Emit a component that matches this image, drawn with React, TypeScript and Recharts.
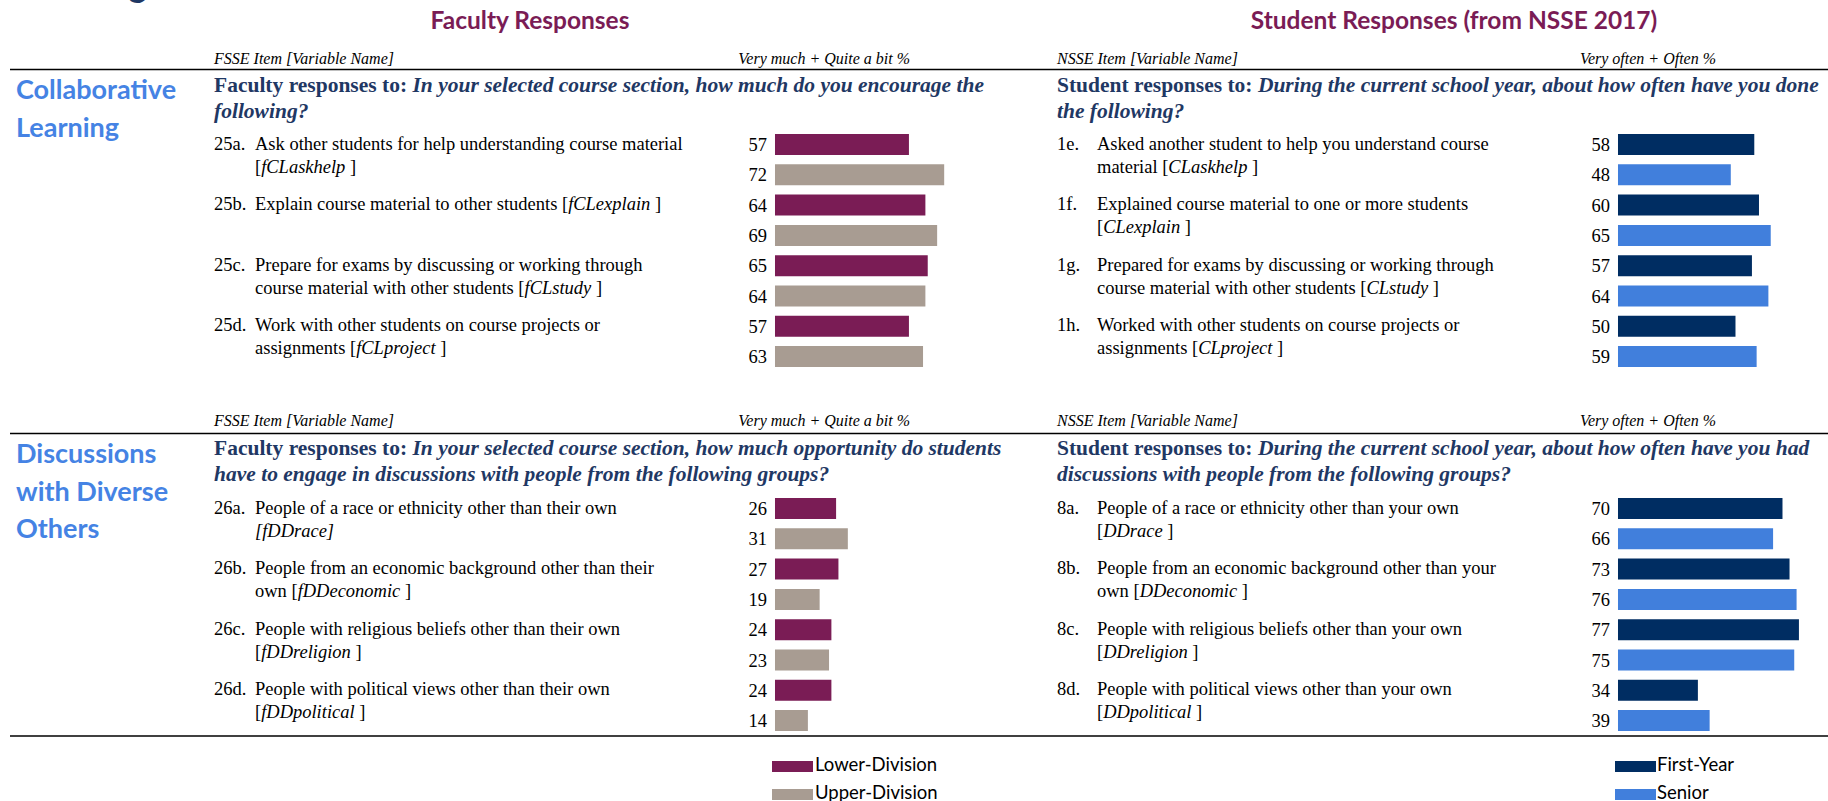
import React from 'react';
import { BarChart, Bar, XAxis, YAxis, Cell, LabelList } from 'recharts';

const SERIF = '"Liberation Serif", "Times New Roman", serif';
const SANS = 'Lato, "Open Sans", sans-serif';

const MAROON = '#7A1C55';
const TAUPE = '#A89C92';
const NAVY = '#002D62';
const BLUE = '#417FDC';
const Q_NAVY = '#1F3864';
const TITLE_BLUE = '#4583E4';

// '_' toggles italic inside a line
const clFacultyCodes = ['25a.', '25b.', '25c.', '25d.'];
const clFacultyItems = [
    ['Ask other students for help understanding course material', '[_fCLaskhelp_ ]'],
    ['Explain course material to other students [_fCLexplain_ ]'],
    ['Prepare for exams by discussing or working through', 'course material with other students [_fCLstudy_ ]'],
    ['Work with other students on course projects or', 'assignments [_fCLproject_ ]'],
];
const clLowerDivision = [57, 64, 65, 57];
const clUpperDivision = [72, 69, 64, 63];

const clStudentCodes = ['1e.', '1f.', '1g.', '1h.'];
const clStudentItems = [
    ['Asked another student to help you understand course', 'material [_CLaskhelp_ ]'],
    ['Explained course material to one or more students', '[_CLexplain_ ]'],
    ['Prepared for exams by discussing or working through', 'course material with other students [_CLstudy_ ]'],
    ['Worked with other students on course projects or', 'assignments [_CLproject_ ]'],
];
const clFirstYear = [58, 60, 57, 50];
const clSenior = [48, 65, 64, 59];

const ddFacultyCodes = ['26a.', '26b.', '26c.', '26d.'];
const ddFacultyItems = [
    ['People of a race or ethnicity other than their own', '_[fDDrace]_'],
    ['People from an economic background other than their', 'own [_fDDeconomic_ ]'],
    ['People with religious beliefs other than their own', '[_fDDreligion_ ]'],
    ['People with political views other than their own', '[_fDDpolitical_ ]'],
];
const ddLowerDivision = [26, 27, 24, 24];
const ddUpperDivision = [31, 19, 23, 14];

const ddStudentCodes = ['8a.', '8b.', '8c.', '8d.'];
const ddStudentItems = [
    ['People of a race or ethnicity other than your own', '[_DDrace_ ]'],
    ['People from an economic background other than your', 'own [_DDeconomic_ ]'],
    ['People with religious beliefs other than your own', '[_DDreligion_ ]'],
    ['People with political views other than your own', '[_DDpolitical_ ]'],
];
const ddFirstYear = [70, 73, 77, 34];
const ddSenior = [66, 76, 75, 39];

const facultyLegend = ['Lower-Division', 'Upper-Division'];
const studentLegend = ['First-Year', 'Senior'];

const BAND = 30.3;

const buildRows = (codes: string[], a: number[], b: number[]) =>
    codes.flatMap((c, i) => [
        { key: `${c}|0`, value: a[i], series: 0 },
        { key: `${c}|1`, value: b[i], series: 1 },
    ]);

const Segs = ({ line, bold }: { line: string; bold?: boolean }) => (
    <>
        {line.split('_').map((s, k) => (
            <tspan key={k} fontStyle={k % 2 ? 'italic' : 'normal'} fontWeight={bold ? 700 : 400}>{s}</tspan>
        ))}
    </>
);

const ItemTick = (props: any) => {
    const { y, payload, codes, items, codeX, textX } = props;
    const [code, s] = String(payload.value).split('|');
    if (s !== '0') return <g />;
    const lines: string[] = items[codes.indexOf(code)];
    return (
        <g fontFamily={SERIF} fontSize={18.5} fill="#000" style={{ whiteSpace: 'pre' }}>
            <text x={codeX} y={y + 5.5}>{code}</text>
            {lines.map((ln, j) => (
                <text key={j} x={textX} y={y + 5.5 + j * 23}><Segs line={ln} /></text>
            ))}
        </g>
    );
};

interface PanelProps {
    left: number;
    top: number;
    axisW: number;
    codeX: number;
    textX: number;
    codes: string[];
    items: string[][];
    a: number[];
    b: number[];
    colors: string[];
}

const Panel: React.FC<PanelProps> = ({ left, top, axisW, codeX, textX, codes, items, a, b, colors }) => {
    const rows = buildRows(codes, a, b);
    return (
        <div style={{ position: 'absolute', left, top }}>
            <BarChart width={axisW + 240} height={BAND * rows.length} data={rows} layout="vertical"
                margin={{ top: 0, right: 5, bottom: 0, left: 0 }}>
                <XAxis type="number" domain={[0, 100]} hide />
                <YAxis type="category" dataKey="key" width={axisW} axisLine={false} tickLine={false} interval={0}
                    tick={(p: any) => <ItemTick {...p} codes={codes} items={items} codeX={codeX} textX={textX} />} />
                <Bar dataKey="value" barSize={21} isAnimationActive={false}>
                    {rows.map((r) => <Cell key={r.key} fill={colors[r.series]} />)}
                    <LabelList dataKey="value" position="left" offset={8} fill="#000" fontFamily={SERIF} fontSize={18.5} />
                </Bar>
            </BarChart>
        </div>
    );
};

const sections = [
    {
        header: 64, line: 69.5, titleY: [99.3, 136.7], qY: [92.3, 118.3],
        title: ['Collaborative', 'Learning'],
        fq: ['Faculty responses to: _In your selected course section, how much do you encourage the_', '_following?_'],
        sq: ['Student responses to: _During the current school year, about how often have you done_', '_the following?_'],
    },
    {
        header: 425.5, line: 433.5, titleY: [463.3, 500.8, 538.3], qY: [455, 481],
        title: ['Discussions', 'with Diverse', 'Others'],
        fq: ['Faculty responses to: _In your selected course section, how much opportunity do students_', '_have to engage in discussions with people from the following groups?_'],
        sq: ['Student responses to: _During the current school year, about how often have you had_', '_discussions with people from the following groups?_'],
    },
];

export default function App() {
    return (
        <div style={{ position: 'absolute', left: 0, top: 0, width: 1828, height: 801, background: '#fff', overflow: 'hidden' }}>
            <svg width={1828} height={801} style={{ position: 'absolute', left: 0, top: 0 }}>
                <text x={17} y={-3} fontFamily={SANS} fontWeight={700} fontSize={34} fill={Q_NAVY}>Learning with Peers</text>
                <text x={530} y={29} textAnchor="middle" fontFamily={SANS} fontWeight={700} fontSize={24.5} fill={MAROON}>Faculty Responses</text>
                <text x={1454} y={29} textAnchor="middle" fontFamily={SANS} fontWeight={700} fontSize={24.5} fill={MAROON}>Student Responses (from NSSE 2017)</text>
                {sections.map((s, i) => (
                    <g key={i}>
                        <g fontFamily={SERIF} fontStyle="italic" fontSize={16} fill="#000">
                            <text x={214} y={s.header}>FSSE Item [Variable Name]</text>
                            <text x={910} y={s.header} textAnchor="end">Very much + Quite a bit %</text>
                            <text x={1057} y={s.header}>NSSE Item [Variable Name]</text>
                            <text x={1716} y={s.header} textAnchor="end">Very often + Often %</text>
                        </g>
                        <line x1={10} x2={1828} y1={s.line} y2={s.line} stroke="#000" strokeWidth={1.6} />
                        {s.title.map((t, j) => (
                            <text key={j} x={16} y={s.titleY[j]} fontFamily={SANS} fontWeight={700} fontSize={27} fill={TITLE_BLUE}>{t}</text>
                        ))}
                        <g fontFamily={SERIF} fontSize={21.5} fill={Q_NAVY} style={{ whiteSpace: 'pre' }}>
                            {s.fq.map((q, j) => <text key={j} x={214} y={s.qY[j]}><Segs line={q} bold /></text>)}
                            {s.sq.map((q, j) => <text key={j} x={1057} y={s.qY[j]}><Segs line={q} bold /></text>)}
                        </g>
                    </g>
                ))}
                <line x1={10} x2={1828} y1={736} y2={736} stroke="#000" strokeWidth={1.6} />
                {facultyLegend.map((t, i) => (
                    <g key={t}>
                        <rect x={772} y={761 + i * 28} width={41} height={11} fill={[MAROON, TAUPE][i]} />
                        <text x={815} y={771 + i * 28} fontFamily={SANS} fontSize={18.5} fill="#000">{t}</text>
                    </g>
                ))}
                {studentLegend.map((t, i) => (
                    <g key={t}>
                        <rect x={1615} y={761 + i * 28} width={41} height={11} fill={[NAVY, BLUE][i]} />
                        <text x={1657} y={771 + i * 28} fontFamily={SANS} fontSize={18.5} fill="#000">{t}</text>
                    </g>
                ))}
            </svg>
            <Panel left={200} top={129.2} axisW={575} codeX={14} textX={55}
                codes={clFacultyCodes} items={clFacultyItems} a={clLowerDivision} b={clUpperDivision} colors={[MAROON, TAUPE]} />
            <Panel left={1045} top={129.2} axisW={573} codeX={12} textX={52}
                codes={clStudentCodes} items={clStudentItems} a={clFirstYear} b={clSenior} colors={[NAVY, BLUE]} />
            <Panel left={200} top={493.2} axisW={575} codeX={14} textX={55}
                codes={ddFacultyCodes} items={ddFacultyItems} a={ddLowerDivision} b={ddUpperDivision} colors={[MAROON, TAUPE]} />
            <Panel left={1045} top={493.2} axisW={573} codeX={12} textX={52}
                codes={ddStudentCodes} items={ddStudentItems} a={ddFirstYear} b={ddSenior} colors={[NAVY, BLUE]} />
        </div>
    );
}
